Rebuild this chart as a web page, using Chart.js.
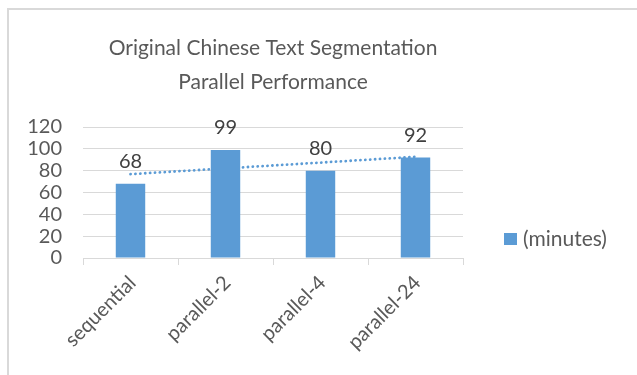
<!DOCTYPE html>
<html><head><meta charset="utf-8">
<script src="https://cdn.jsdelivr.net/npm/chart.js@4/dist/chart.umd.min.js"></script>
<style>
html,body{margin:0;padding:0;background:#fff;}
#frame{position:absolute;left:7px;top:8px;width:700px;height:500px;border-left:2px solid #d9d9d9;border-top:2px solid #d9d9d9;}
#wrap{position:absolute;left:0;top:0;width:637px;height:375px;}
</style></head>
<body>
<div id="frame"></div>
<div id="wrap"><canvas id="c" width="637" height="375"></canvas></div>
<script>
const categories = ['sequential', 'parallel-2', 'parallel-4', 'parallel-24'];
const minutes = [68, 99, 80, 92];
const trendValues = [76.8, 82.1, 87.4, 92.7];
const yTicks = [0, 20, 40, 60, 80, 100, 120];
const titleLines = ['Original Chinese Text Segmentation', 'Parallel Performance'];
const seriesName = '(minutes)';

const FONT = 'Lato, "Open Sans", sans-serif';
const TXT = '#595959';
const GRID = '#d9d9d9';
const BLUE = '#5b9bd5';

const valueLabels = {
  id: 'valueLabels',
  afterDatasetsDraw(chart) {
    const ctx = chart.ctx;
    const meta = chart.getDatasetMeta(0);
    ctx.save();
    ctx.font = '20px ' + FONT;
    ctx.fillStyle = '#404040';
    ctx.textAlign = 'center';
    ctx.textBaseline = 'middle';
    meta.data.forEach((bar, i) => {
      ctx.fillText(String(minutes[i]), bar.x, bar.y - 22);
    });
    ctx.restore();
  }
};

const sideLegend = {
  id: 'sideLegend',
  afterDraw(chart) {
    const ctx = chart.ctx;
    const a = chart.chartArea;
    const ds = chart.data.datasets[0];
    const bx = a.right + 41, cy = a.bottom - 19;
    ctx.save();
    ctx.fillStyle = ds.backgroundColor;
    ctx.fillRect(bx, cy - 6, 13, 12);
    ctx.font = '21px ' + FONT;
    ctx.fillStyle = TXT;
    ctx.textAlign = 'left';
    ctx.textBaseline = 'middle';
    ctx.fillText(ds.label, bx + 19, cy);
    ctx.restore();
  }
};

new Chart(document.getElementById('c'), {
  type: 'bar',
  data: {
    labels: categories,
    datasets: [
      {
        type: 'bar', label: seriesName, data: minutes,
        backgroundColor: BLUE, borderWidth: 0,
        barPercentage: 0.31, categoryPercentage: 1, order: 1
      },
      {
        type: 'line', label: 'trend', data: trendValues,
        borderColor: BLUE, borderWidth: 2.8, borderDash: [0.1, 4.8],
        borderCapStyle: 'round', pointRadius: 0, fill: false, order: 2
      }
    ]
  },
  options: {
    responsive: false, animation: false,
    layout: { padding: { left: 0, right: 174, top: 0, bottom: 0 } },
    plugins: {
      title: {
        display: true, text: titleLines, fullSize: false,
        color: TXT, font: { family: FONT, size: 21, weight: 'normal', lineHeight: 34/21 },
        padding: { top: 31, bottom: 28 }
      },
      legend: { display: false },
      tooltip: { enabled: false }
    },
    scales: {
      x: {
        grid: { offset: true, drawOnChartArea: false, color: GRID, tickLength: 7 },
        border: { color: GRID },
        ticks: { color: TXT, font: { family: FONT, size: 20 }, minRotation: 45, maxRotation: 45, labelOffset: 2, padding: 6 },
        afterFit: (s) => { s.height = 117; }
      },
      y: {
        min: 0, max: 120,
        afterBuildTicks: (s) => { s.ticks = yTicks.map(v => ({ value: v })); },
        grid: { color: GRID, drawTicks: false },
        border: { display: false },
        ticks: { color: TXT, font: { family: FONT, size: 20 }, padding: 21, autoSkip: false },
        afterFit: (s) => { s.width = 83; }
      }
    }
  },
  plugins: [valueLabels, sideLegend]
});
</script>
</body></html>
